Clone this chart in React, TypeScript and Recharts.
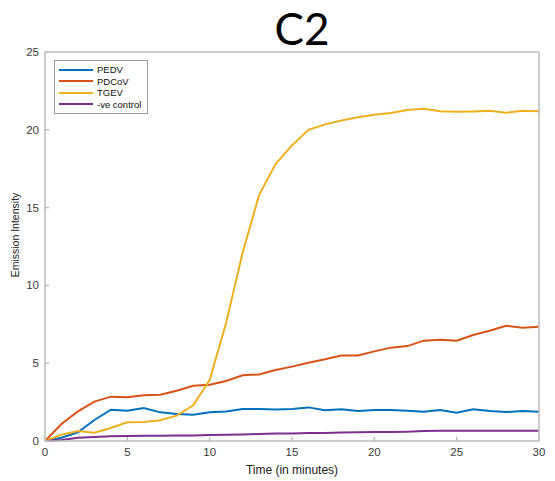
import React from 'react';
import { LineChart, Line, XAxis, YAxis, Legend, Label } from 'recharts';

// Time in minutes, sampled every minute
const minutes = [
  0, 1, 2, 3, 4, 5, 6, 7, 8, 9, 10, 11, 12, 13, 14, 15,
  16, 17, 18, 19, 20, 21, 22, 23, 24, 25, 26, 27, 28, 29, 30,
];

const pedv = [
  0, 0.21, 0.56, 1.35, 2.01, 1.95, 2.12, 1.84, 1.74, 1.69, 1.84, 1.9, 2.06, 2.06, 2.03, 2.06,
  2.16, 1.97, 2.04, 1.93, 1.99, 1.99, 1.95, 1.88, 1.99, 1.82, 2.04, 1.93, 1.86, 1.93, 1.88,
];

const pdcov = [
  0, 1.09, 1.9, 2.53, 2.85, 2.81, 2.94, 2.98, 3.23, 3.55, 3.62, 3.86, 4.22, 4.28, 4.56, 4.78,
  5.03, 5.25, 5.5, 5.5, 5.76, 6.0, 6.1, 6.45, 6.51, 6.45, 6.81, 7.09, 7.41, 7.28, 7.35,
];

const tgev = [
  0, 0.4, 0.64, 0.53, 0.84, 1.2, 1.22, 1.33, 1.63, 2.29, 3.92, 7.6, 12.1, 15.8, 17.8, 19.0,
  20.0, 20.35, 20.6, 20.8, 20.97, 21.08, 21.27, 21.36, 21.2, 21.16, 21.18, 21.22, 21.1, 21.22, 21.2,
];

const negControl = [
  0, 0.06, 0.21, 0.26, 0.3, 0.32, 0.34, 0.34, 0.36, 0.36, 0.38, 0.4, 0.42, 0.45, 0.49, 0.49,
  0.51, 0.51, 0.54, 0.56, 0.58, 0.58, 0.6, 0.64, 0.66, 0.66, 0.66, 0.66, 0.66, 0.66, 0.66,
];

const seriesNames = ['PEDV', 'PDCoV', 'TGEV', '-ve control'];
const xTicks = [0, 5, 10, 15, 20, 25, 30];
const yTicks = [0, 5, 10, 15, 20, 25];

const data = minutes.map((t, i) => ({
  t,
  pedv: pedv[i],
  pdcov: pdcov[i],
  tgev: tgev[i],
  neg: negControl[i],
}));

const AXIS = '#bcbcbc';
const FONT = 'Liberation Sans, Arial, sans-serif';
const TICK_TEXT = { fill: '#3a3a3a', fontSize: 11.5, fontFamily: FONT };

const YTitle = (props: any) => {
  const { viewBox } = props;
  const cx = viewBox.x - 29;
  const cy = 235;
  return (
    <text
      x={cx}
      y={cy}
      transform={`rotate(-90, ${cx}, ${cy})`}
      textAnchor="middle"
      dominantBaseline="central"
      fill="#222"
      fontSize={10.5}
      fontFamily={FONT}
    >
      Emission Intensity
    </text>
  );
};

const XTitle = (props: any) => {
  const { viewBox } = props;
  const cx = viewBox.x + viewBox.width / 2;
  const cy = viewBox.y + 29;
  return (
    <text
      x={cx}
      y={cy}
      textAnchor="middle"
      dominantBaseline="central"
      fill="#222"
      fontSize={12}
      fontFamily={FONT}
    >
      Time (in minutes)
    </text>
  );
};

const LegendBox = (props: any) => {
  const { payload = [] } = props;
  const items = [...payload].sort(
    (a: any, b: any) => seriesNames.indexOf(a.value) - seriesNames.indexOf(b.value),
  );
  return (
    <div
      style={{
        border: '1px solid #9a9a9a',
        background: '#fff',
        padding: '3px 6px 3px 4px',
        fontFamily: FONT,
        fontSize: 9.5,
        color: '#111',
        lineHeight: '11.5px',
      }}
    >
      {items.map((p: any) => (
        <div key={p.value} style={{ display: 'flex', alignItems: 'center' }}>
          <span style={{ width: 34, height: 2, background: p.color, marginRight: 4 }} />
          {p.value}
        </div>
      ))}
    </div>
  );
};

const App: React.FC = () => {
  return (
    <div style={{ position: 'absolute', left: 0, top: 0, width: 555, height: 481, background: '#fff' }}>
      <div
        style={{
          position: 'absolute',
          left: 0,
          width: 604,
          top: 2,
          textAlign: 'center',
          fontFamily: 'Lato, Open Sans, sans-serif',
          fontSize: 44,
          color: '#000',
          lineHeight: '52px',
        }}
      >
        C2
      </div>
      <LineChart
        width={555}
        height={481}
        data={data}
        margin={{ top: 51, right: 15, bottom: 39, left: 44 }}
      >
        <XAxis
          dataKey="t"
          type="number"
          domain={[0, 30]}
          ticks={xTicks}
          height={1}
          stroke={AXIS}
          strokeWidth={1.5}
          tickSize={-4}
          tickMargin={11}
          tick={TICK_TEXT}
          allowDataOverflow
        >
          <Label content={XTitle} />
        </XAxis>
        <XAxis
          xAxisId="top"
          orientation="top"
          type="number"
          domain={[0, 30]}
          ticks={xTicks}
          height={1}
          stroke={AXIS}
          strokeWidth={1.5}
          tickSize={-4}
          tick={false}
        />
        <YAxis
          type="number"
          domain={[0, 25]}
          ticks={yTicks}
          width={1}
          stroke={AXIS}
          strokeWidth={1.5}
          tickSize={-4}
          tickMargin={10}
          tick={TICK_TEXT}
        >
          <Label content={YTitle} />
        </YAxis>
        <YAxis
          yAxisId="right"
          orientation="right"
          type="number"
          domain={[0, 25]}
          ticks={yTicks}
          width={1}
          stroke={AXIS}
          strokeWidth={1.5}
          tickSize={-4}
          tick={false}
        />
        <Legend
          content={LegendBox}
          layout="vertical"
          align="center"
          verticalAlign="middle"
          wrapperStyle={{ left: 54, top: 60, width: 'auto' }}
        />
        <Line dataKey="pedv" name="PEDV" stroke="#0072BD" strokeWidth={2} dot={false} isAnimationActive={false} />
        <Line dataKey="pdcov" name="PDCoV" stroke="#D95319" strokeWidth={2} dot={false} isAnimationActive={false} />
        <Line dataKey="tgev" name="TGEV" stroke="#EDB120" strokeWidth={2} dot={false} isAnimationActive={false} />
        <Line dataKey="neg" name="-ve control" stroke="#7E2F8E" strokeWidth={2} dot={false} isAnimationActive={false} />
      </LineChart>
    </div>
  );
};

export default App;
